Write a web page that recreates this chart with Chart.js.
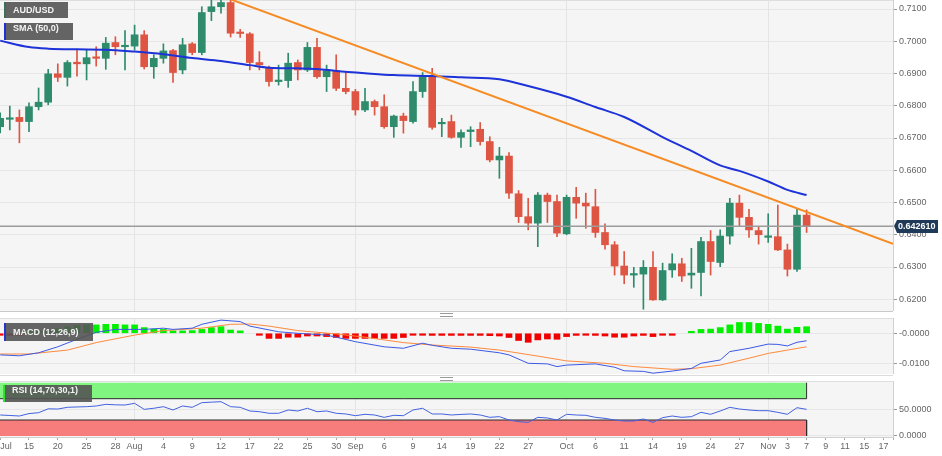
<!DOCTYPE html>
<html>
<head>
<meta charset="utf-8">
<script src="https://cdn.jsdelivr.net/npm/chart.js@4.4.1/dist/chart.umd.min.js"></script>
<style>
  body { margin: 0; background: #fff; font-family: "Liberation Sans", Arial, sans-serif; }
  #wrap { position: relative; width: 942px; height: 456px; overflow: hidden; }
  canvas { position: absolute; left: 0; }
  .tag { position: absolute; height: 17px; line-height: 17px; padding: 0 14px 0 7px;
         background: rgba(84,84,84,.9); color: #f4f4f4; font: bold 9px "Liberation Sans", Arial, sans-serif;
         border-left: 2px solid #3e6e5c; white-space: nowrap; }
  .sep { position: absolute; left: 0; width: 893px; height: 1px; background: #c9c9c9; }
  .grip { position: absolute; left: 440px; width: 13px; height: 2px; border-top: 1px solid #9a9a9a; border-bottom: 1px solid #9a9a9a; }
</style>
</head>
<body>
<div id="wrap">
  <canvas id="main" width="942" height="311" style="top:0"></canvas>
  <canvas id="macd" width="942" height="56" style="top:318px"></canvas>
  <canvas id="rsi" width="942" height="75" style="top:381px"></canvas>
  <div class="sep" style="top:311px"></div>
  <div class="grip" style="top:313px"></div>
  <div class="sep" style="top:375px;background:#dcdcdc"></div>
  <div class="grip" style="top:377px"></div>
  <div class="tag" style="left:4px;top:2px;height:16px;line-height:16px">AUD/USD</div>
  <div class="tag" style="left:4px;top:23px;border-left-color:#1c31d6">SMA (50,0)</div>
  <div class="tag" style="left:4px;top:323px;height:18px;line-height:18px;border-left-color:#2236d0">MACD (12,26,9)</div>
  <div class="tag" style="left:3px;top:385px;border-left-color:#35e035">RSI (14,70,30,1)</div>
</div>
<script>
// daily candles, Jul 12 -> Nov 7 (index 0..84)
const opens  = [0.6735,0.6758,0.6764,0.6751,0.6797,0.6811,0.6899,0.6888,0.6935,0.6930,
                0.6950,0.6947,0.6996,0.6983,0.6985,0.7020,0.6921,0.6947,0.6971,0.6911,
                0.6992,0.6965,0.7092,0.7107,0.7120,0.7027,0.7023,0.6934,0.6919,0.6875,
                0.6878,0.6934,0.6911,0.6981,0.6890,0.6909,0.6854,0.6844,0.6787,0.6813,
                0.6797,0.6735,0.6768,0.6751,0.6844,0.6892,0.6744,0.6751,0.6702,0.6720,
                0.6727,0.6689,0.6632,0.6644,0.6527,0.6456,0.6436,0.6523,0.6503,0.6403,
                0.6516,0.6498,0.6487,0.6407,0.6369,0.6303,0.6275,0.6278,0.6299,0.6198,
                0.6291,0.6310,0.6275,0.6283,0.6379,0.6314,0.6396,0.6498,0.6454,0.6413,
                0.6392,0.6394,0.6353,0.6293,0.6461];
const highs  = [0.6778,0.6799,0.6787,0.6809,0.6855,0.6913,0.6930,0.6940,0.6975,0.6975,
                0.6983,0.7012,0.7014,0.7033,0.7050,0.7033,0.6958,0.6992,0.6975,0.7009,
                0.6996,0.7107,0.7130,0.7137,0.7137,0.7037,0.7027,0.6968,0.6923,0.6926,
                0.6963,0.6942,0.6996,0.7009,0.6926,0.6958,0.6906,0.6851,0.6854,0.6818,
                0.6834,0.6771,0.6777,0.6875,0.6903,0.6916,0.6761,0.6771,0.6725,0.6735,
                0.6748,0.6704,0.6671,0.6655,0.6537,0.6513,0.6531,0.6529,0.6523,0.6523,
                0.6547,0.6529,0.6541,0.6434,0.6379,0.6348,0.6299,0.6320,0.6348,0.6312,
                0.6341,0.6327,0.6358,0.6392,0.6413,0.6415,0.6513,0.6523,0.6479,0.6425,
                0.6465,0.6492,0.6371,0.6479,0.6477];
const lows   = [0.6716,0.6725,0.6685,0.6720,0.6787,0.6803,0.6875,0.6861,0.6892,0.6880,
                0.6923,0.6913,0.6958,0.6911,0.6973,0.6914,0.6885,0.6932,0.6872,0.6899,
                0.6958,0.6958,0.7064,0.7087,0.7013,0.7012,0.6911,0.6911,0.6861,0.6864,
                0.6857,0.6880,0.6906,0.6885,0.6844,0.6847,0.6837,0.6771,0.6782,0.6771,
                0.6730,0.6702,0.6715,0.6746,0.6826,0.6727,0.6704,0.6699,0.6671,0.6673,
                0.6678,0.6626,0.6575,0.6513,0.6438,0.6415,0.6363,0.6438,0.6394,0.6400,
                0.6451,0.6420,0.6392,0.6355,0.6275,0.6248,0.6237,0.6169,0.6196,0.6196,
                0.6268,0.6255,0.6234,0.6210,0.6275,0.6301,0.6371,0.6427,0.6392,0.6371,
                0.6376,0.6351,0.6272,0.6286,0.6407];
const closes = [0.6761,0.6761,0.6751,0.6797,0.6811,0.6899,0.6888,0.6934,0.6930,0.6949,
                0.6947,0.6994,0.6983,0.6986,0.7020,0.6921,0.6947,0.6970,0.6903,0.6989,
                0.6965,0.7089,0.7107,0.7120,0.7025,0.7024,0.6934,0.6927,0.6875,0.6878,
                0.6932,0.6911,0.6981,0.6890,0.6909,0.6854,0.6844,0.6787,0.6813,0.6797,
                0.6735,0.6768,0.6754,0.6844,0.6890,0.6733,0.6748,0.6702,0.6717,0.6725,
                0.6689,0.6632,0.6644,0.6529,0.6456,0.6436,0.6523,0.6503,0.6405,0.6516,
                0.6498,0.6489,0.6407,0.6369,0.6303,0.6275,0.6278,0.6299,0.6198,0.6289,
                0.6310,0.6272,0.6281,0.6379,0.6317,0.6396,0.6498,0.6454,0.6415,0.6400,
                0.6396,0.6353,0.6293,0.6461,0.642610];

// SMA(50)
const smaIdx = [0,3,5,8,11,14,17,20,23,26,28,31,33,35,38,41,45,48,52,55,59,62,65,69,72,75,77,80,82,84];
const smaVal = [0.7002,0.6982,0.6977,0.6975,0.6974,0.6968,0.6960,0.6948,0.6939,0.6926,0.6918,0.6916,0.6914,0.6908,0.6901,
                0.6895,0.6892,0.6888,0.6882,0.6861,0.6828,0.6796,0.6765,0.6703,0.6660,0.6615,0.6598,0.6565,0.6539,0.6523];

// falling trend line
const trendIdx = [24, 93];
const trendVal = [0.7130, 0.6372];

// MACD (12,26,9)
const macdIdx = [0,2,4,6,8,10,12,15,17,18,20,21,23,25,26,29,31,34,35,37,40,42,44,45,47,49,52,53,55,57,58,59,62,64,65,67,68,70,72,73,75,76,78,80,81,82,83,84];
const macdVal = [-0.0072,-0.0075,-0.0065,-0.0045,-0.0020,0.0003,0.0013,0.0013,0.0017,0.0013,0.0017,0.0030,0.0044,0.0039,0.0024,
                 0.0005,0.0000,-0.0006,-0.0013,-0.0028,-0.0045,-0.0050,-0.0033,-0.0040,-0.0050,-0.0053,-0.0065,-0.0072,-0.0100,-0.0102,
                 -0.0111,-0.0106,-0.0102,-0.0113,-0.0125,-0.0127,-0.0133,-0.0126,-0.0117,-0.0100,-0.0089,-0.0061,-0.0050,-0.0036,-0.0037,
                 -0.0042,-0.0030,-0.0025];
const sigIdx = [0,3,7,10,14,17,21,24,26,28,31,35,38,42,45,49,52,56,59,63,66,70,72,75,78,80,82,84];
const sigVal = [-0.0069,-0.0069,-0.0056,-0.0031,-0.0006,0.0009,0.0017,0.0030,0.0031,0.0024,0.0009,-0.0002,-0.0013,-0.0031,
                -0.0039,-0.0046,-0.0056,-0.0076,-0.0092,-0.0100,-0.0111,-0.0120,-0.0118,-0.0106,-0.0083,-0.0067,-0.0056,-0.0045];
const hist = [-0.0006,-0.0003,-0.0001,0.0002,0.0006,0.0010,0.0015,
              0.0022,0.0026,0.0028,0.0028,0.0030,0.0030,0.0028,0.0028,
              0.0019,0.0014,0.0013,0.0008,0.0008,0.0009,0.0013,0.0019,0.0022,0.0011,0.0008,
              null,
              -0.0006,-0.0017,-0.0017,-0.0013,-0.0013,-0.0009,-0.0009,-0.0011,-0.0014,-0.0017,-0.0017,-0.0017,-0.0017,-0.0017,-0.0017,-0.0014,
              -0.0006,-0.0002,-0.0007,-0.0007,-0.0007,-0.0007,
              -0.0007,-0.0007,-0.0008,-0.0009,-0.0014,-0.0024,-0.0030,-0.0022,-0.0019,-0.0020,-0.0011,-0.0007,-0.0006,-0.0007,-0.0009,
              -0.0013,-0.0013,-0.0009,-0.0007,-0.0011,-0.0006,-0.0002,
              null,
              0.0004,0.0013,0.0014,0.0019,0.0028,0.0036,0.0036,0.0033,0.0030,0.0024,0.0014,0.0020,0.0022];

// RSI (14,70,30)
const rsi = [39.4,38.5,37.5,42,43.7,51,50.6,53.8,54.5,55,
             56.3,59.4,58.5,58.1,61.3,50,52,55,48.8,56.3,
             53.8,62.5,63.5,64.4,55,53.8,46.9,45.6,42.6,42.6,
             48.8,46.9,52,45.6,46.9,42.6,41.3,38.1,40.7,39.4,
             35,38.8,38.1,48.8,52,41.3,41.3,39.4,40.5,41.3,
             39.4,35,36.3,30,26.9,25.6,35,33.8,30,40.7,
             39.4,38.8,35,33.1,30,28.1,28.1,31.9,25.6,34.4,
             37.5,35,36.3,44.4,40.7,46.9,53.8,50.6,48.8,47.5,
             47.5,44.4,40.7,53.1,50];
const rsiHigh = 70, rsiLow = 30;

// axes
const priceTicks = [0.62,0.63,0.64,0.65,0.66,0.67,0.68,0.69,0.70,0.71];
const macdTicks = [-0.01, 0];
const rsiTicks = [0, 50];
const monthIdx = [14, 37, 59, 80];
const tickIdx  = [0,3,6,9,12,14,17,20,23,26,29,32,35,37,40,43,46,49,52,55,59,62,65,68,71,74,77,80,82,84,86,88,90,92];
const tickText = ['Jul','15','20','25','28','Aug','4','9','12','17','22','25','30','Sep','6','9','14','19','22','27',
                  'Oct','6','11','14','19','24','27','Nov','3','7','9','11','15','17'];

const X_MIN = -0.02, X_MAX = 93;
const GREEN = '#2e8b6c', RED = '#de5643';
const FONT = '"Liberation Sans", Arial, sans-serif';
Chart.defaults.font.family = FONT;
Chart.defaults.font.size = 9;
Chart.defaults.color = '#666';

const idx = closes.map((_, i) => i);
const last = closes[closes.length - 1];
const lastIdx = closes.length - 1;
const candleColors = idx.map(i => closes[i] >= opens[i] ? GREEN : RED);
const pts = (xs, ys) => xs.map((x, i) => ({x: x, y: ys[i]}));

const paneBg = {
  id: 'paneBg',
  beforeDraw(chart) {
    const {ctx, chartArea: a} = chart;
    ctx.save();
    ctx.fillStyle = '#f5f5f5';
    ctx.fillRect(a.left, a.top, a.right - a.left, a.bottom - a.top);
    ctx.strokeStyle = '#dedede';
    ctx.lineWidth = 1;
    ctx.beginPath();
    ctx.moveTo(a.left, a.top + 0.5); ctx.lineTo(a.right, a.top + 0.5);
    ctx.stroke();
    ctx.restore();
  }
};

const lastTag = {
  id: 'lastTag',
  afterDraw(chart) {
    const {ctx, chartArea: a} = chart;
    const y = Math.round(chart.scales.y.getPixelForValue(last));
    ctx.save();
    ctx.fillStyle = '#1f3a59';
    ctx.beginPath();
    ctx.moveTo(a.right + 1, y);
    ctx.lineTo(a.right + 4, y - 6);
    ctx.lineTo(a.right + 45, y - 6);
    ctx.lineTo(a.right + 45, y + 7);
    ctx.lineTo(a.right + 4, y + 7);
    ctx.closePath();
    ctx.fill();
    ctx.fillStyle = '#fff';
    ctx.font = 'bold 9px ' + FONT;
    ctx.textBaseline = 'middle';
    ctx.fillText(last.toFixed(6), a.right + 5, y + 1);
    ctx.restore();
  }
};

function yAxis(min, max, ticks, fmt) {
  return {
    position: 'right', min: min, max: max,
    afterBuildTicks: s => { s.ticks = ticks.map(v => ({value: v})); },
    afterFit: s => { s.width = 49; s.paddingTop = 0; s.paddingBottom = 0; },
    ticks: { callback: fmt, padding: 2, color: '#666', font: {size: 9} },
    grid: { color: '#e6e6e6', tickColor: '#999', tickLength: 4 },
    border: { color: '#d0d0d0' }
  };
}

function hiddenX() {
  return {
    type: 'linear', min: X_MIN, max: X_MAX, offset: false,
    afterBuildTicks: s => { s.ticks = monthIdx.map(v => ({value: v})); },
    afterFit: s => { s.height = 0; s.paddingLeft = 0; s.paddingRight = 0; },
    ticks: { display: false },
    grid: { color: '#e4e4e4', drawTicks: false, offset: false },
    border: { display: false }
  };
}

const common = {
  responsive: false, animation: false,
  layout: { padding: 0 },
  plugins: { legend: { display: false }, tooltip: { enabled: false } }
};

// price panel
new Chart(document.getElementById('main'), {
  type: 'bar',
  data: { datasets: [
    { type: 'line', data: pts(trendIdx, trendVal), borderColor: '#f68b24', borderWidth: 2, pointRadius: 0, order: 0 },
    { type: 'line', data: pts(smaIdx, smaVal), borderColor: '#1d33d8', borderWidth: 2, pointRadius: 0,
      cubicInterpolationMode: 'monotone', order: 1 },
    { type: 'line', data: [{x: X_MIN, y: last}, {x: X_MAX, y: last}], borderColor: '#9c9c9c', borderWidth: 1.5,
      pointRadius: 0, order: 2 },
    { data: idx.map(i => ({x: i, y: [opens[i], closes[i]]})), backgroundColor: candleColors,
      barThickness: 7, minBarLength: 1.5, grouped: false, order: 3 },
    { data: idx.map(i => ({x: i, y: [lows[i], highs[i]]})), backgroundColor: candleColors,
      barThickness: 1, grouped: false, order: 4 }
  ]},
  options: Object.assign({}, common, {
    scales: {
      x: hiddenX(),
      y: yAxis(0.616357, 0.712791, priceTicks, v => v.toFixed(4))
    }
  }),
  plugins: [paneBg, lastTag]
});

// MACD panel
new Chart(document.getElementById('macd'), {
  type: 'bar',
  data: { datasets: [
    { type: 'line', data: pts(macdIdx, macdVal), borderColor: '#3b5ae6', borderWidth: 1, pointRadius: 0, order: 0 },
    { type: 'line', data: pts(sigIdx, sigVal), borderColor: '#ff8a3d', borderWidth: 1, pointRadius: 0, order: 1 },
    { data: idx.map(i => ({x: i, y: hist[i]})),
      backgroundColor: idx.map(i => hist[i] >= 0 ? '#00f000' : '#f20000'),
      barThickness: 6, minBarLength: 2, grouped: false, order: 2 }
  ]},
  options: Object.assign({}, common, {
    scales: {
      x: hiddenX(),
      y: yAxis(-0.01357, 0.0051, macdTicks, v => v === 0 ? '-0.0000' : v.toFixed(4))
    }
  }),
  plugins: [paneBg]
});

// RSI panel with date axis
new Chart(document.getElementById('rsi'), {
  type: 'line',
  data: { datasets: [
    { data: idx.map(i => ({x: i, y: rsi[i]})), borderColor: '#4262e0', borderWidth: 1, pointRadius: 0, order: 0 },
    { data: [{x: X_MIN, y: rsiHigh}, {x: lastIdx, y: rsiHigh}, {x: lastIdx, y: 100}],
      borderColor: '#2b2b2b', borderWidth: 1, backgroundColor: '#80f57f', fill: {value: 100}, pointRadius: 0, order: 1 },
    { data: [{x: X_MIN, y: rsiLow}, {x: lastIdx, y: rsiLow}, {x: lastIdx, y: 0}],
      borderColor: '#2b2b2b', borderWidth: 1, backgroundColor: '#f77d7d', fill: {value: 0}, pointRadius: 0, order: 2 }
  ]},
  options: Object.assign({}, common, {
    scales: {
      x: {
        type: 'linear', min: X_MIN, max: X_MAX, offset: false,
        afterBuildTicks: s => { s.ticks = tickIdx.concat([X_MAX]).map(v => ({value: v})); },
        afterFit: s => { s.height = 19; s.paddingLeft = 0; s.paddingRight = 0; },
        ticks: { callback: (v, i) => tickText[i] || '', autoSkip: false, maxRotation: 0, align: 'inner',
                 padding: 1, color: '#666', font: {size: 9} },
        grid: { color: c => monthIdx.includes(c.tick && c.tick.value) ? '#e4e4e4' : 'rgba(0,0,0,0)',
                tickColor: '#aaa', tickLength: 3, offset: false },
        border: { color: '#d0d0d0' }
      },
      y: yAxis(-1.9, 103.2, rsiTicks, v => v.toFixed(4))
    }
  }),
  plugins: [paneBg]
});
</script>
</body>
</html>
